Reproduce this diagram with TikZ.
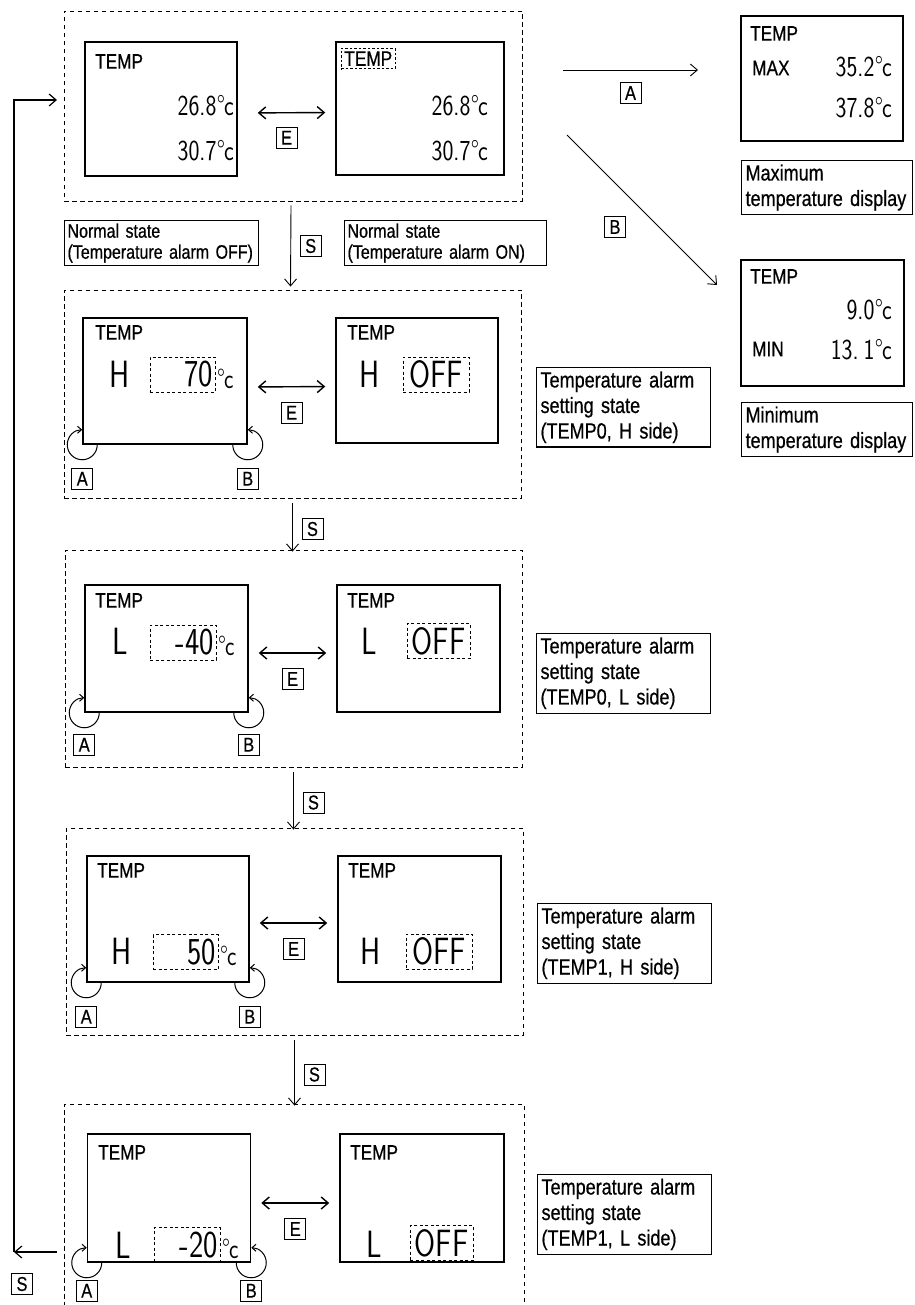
\documentclass[tikz,border=0pt]{standalone}
\usepackage{fontspec}
\setmainfont{Liberation Sans}[FakeStretch=0.82,FakeBold=0.6]
\newfontfamily\lcdfamily{lmsans17-regular.otf}[FakeStretch=0.8]
\usetikzlibrary{arrows.meta,positioning}
\newcommand\lcddeg{\kern0.5pt°\kern-1pt c}

\begin{document}
\begin{tikzpicture}[x=1pt,y=-1pt]
\tikzset{
  panel/.style={draw,line width=0.9pt,dash pattern=on 4.5pt off 3.5pt,inner sep=0pt},
  display/.style={draw,line width=1.5pt,inner sep=0pt},
  keybox/.style={draw,line width=0.9pt,inner sep=0pt,minimum size=21pt,font=\fontsize{20}{22}\selectfont},
  statebox/.style={draw,line width=1.1pt,inner sep=4pt,align=left,font=\fontsize{22}{25.5}\selectfont},
  normalbox/.style={draw,line width=1.1pt,inner sep=3pt,align=left,font=\fontsize{19.5}{21}\selectfont},
  tag/.style={inner sep=0pt,font=\fontsize{21}{22}\selectfont},
  digits/.style={inner sep=0pt,font=\lcdfamily\fontsize{29}{29}\selectfont},
  bigseg/.style={inner sep=0pt,font=\lcdfamily\fontsize{38}{38}\selectfont},
  degc/.style={inner sep=0pt,anchor=base west,font=\lcdfamily\fontsize{28}{28}\selectfont},
  valbox/.style={draw,line width=0.7pt,dash pattern=on 3pt off 2.5pt,inner sep=1pt,minimum height=35pt,font=\lcdfamily\fontsize{38}{38}\selectfont},
  flow/.style={-{Straight Barb[length=7pt,width=12pt]},line width=0.9pt},
  toggle/.style={{Straight Barb[length=7pt,width=12pt]}-{Straight Barb[length=7pt,width=12pt]},line width=1.4pt,shorten <=10pt,shorten >=10pt},
  spin/.style={-{Straight Barb[length=4pt,width=7pt]},line width=1pt}
}
\path[fill=white,use as bounding box] (0,0) rectangle (914,1305);

\node[panel,minimum width=458pt,minimum height=190pt] (p_1) at (293,106) {};
\node[panel,minimum width=457pt,minimum height=208pt] (p_2) at (292.5,394) {};
\node[panel,minimum width=457pt,minimum height=217pt] (p_3) at (293.5,658.5) {};
\node[panel,minimum width=457pt,minimum height=207pt] (p_4) at (294.5,931.5) {};
\node[panel,minimum width=460pt,minimum height=226pt] (p_5) at (294,1217) {};

\node[display,minimum width=152pt,minimum height=134pt] (d_1L) at (161,109) {};
\node[display,minimum width=168pt,minimum height=133pt] (d_1R) at (420,108.5) {};
\node[tag,anchor=north west] at (95,54) {TEMP};
\node[digits,anchor=east] at (234,106) {26.8\lcddeg};
\node[digits,anchor=east] at (234,151) {30.7\lcddeg};
\node[tag,anchor=north west,draw,dash pattern=on 2.5pt off 2pt,line width=0.7pt,inner sep=3pt] at (341,48) {TEMP};
\node[digits,anchor=east] at (488,106) {26.8\lcddeg};
\node[digits,anchor=east] at (488,151) {30.7\lcddeg};
\draw[toggle,shorten <=20pt] ([yshift=-4pt]d_1L.east) -- node[keybox,below=14pt] {E} ([yshift=-4pt]d_1R.west);

\node[normalbox,anchor=north west,text width=188pt,minimum height=44pt] (n_off) at (64,220) {Normal state\\(Temperature alarm OFF)};
\node[normalbox,anchor=north west,text width=196pt,minimum height=44pt] (n_on) at (344,220) {Normal state\\(Temperature alarm ON)};
\draw[flow] ([xshift=-2pt,yshift=-4pt]p_1.south) -- node[keybox,right=9pt] {S} ([xshift=-2pt,yshift=3pt]p_2.north);

\coordinate (a_0) at (563,70);
\coordinate (a_1) at (698,70);
\draw[flow] (a_0) -- node[keybox,below=12pt] {A} (a_1);
\coordinate (b_0) at (567,135);
\coordinate (b_1) at (717,285);
\draw[flow] (b_0) -- (b_1);
\node[keybox] (k_B) at (615,227) {B};

\node[display,minimum width=162pt,minimum height=125pt] (d_max) at (822,78.5) {};
\node[tag,anchor=north west] at (750,26) {TEMP};
\node[tag,anchor=west] at (752,68) {MAX};
\node[digits,anchor=east] at (892,67) {35.2\lcddeg};
\node[digits,anchor=east] at (892,108) {37.8\lcddeg};
\node[statebox,anchor=north west,text width=163pt,minimum height=52pt] (l_max) at (741,160) {Maximum\\temperature display};

\node[display,minimum width=163pt,minimum height=126pt] (d_min) at (822.5,323) {};
\node[tag,anchor=north west] at (750,269) {TEMP};
\node[digits,anchor=east] at (892,310) {9.0\lcddeg};
\node[tag,anchor=west] at (752,349) {MIN};
\node[digits,anchor=east] at (892,350) {13.\,1\lcddeg};
\node[statebox,anchor=north west,text width=163pt,minimum height=52pt] (l_min) at (741,402) {Minimum\\temperature display};

\node[display,minimum width=164pt,minimum height=126pt] (d_2L) at (165,381) {};
\node[display,minimum width=162pt,minimum height=125pt] (d_2R) at (417,380.5) {};
\node[tag,anchor=north west] at (95,325) {TEMP};
\node[tag,anchor=north west] at (347,325) {TEMP};
\node[bigseg] at (120,374) {H};
\node[valbox,minimum width=65pt,text width=61pt,align=right] (v_2L) at (182.5,374.5) {70};
\node[degc] at (217,388) {°\kern-1pt c};
\node[bigseg] at (370,374) {H};
\node[valbox,minimum width=66pt,text width=62pt,align=center] (v_2R) at (436,374.5) {OFF};
\draw[toggle] ([yshift=-6pt]d_2L.east) -- node[keybox,below=15pt] {E} ([yshift=-6pt]d_2R.west);
\draw[spin] ([xshift=15pt]d_2L.south west) arc[start angle=0,end angle=-270,radius=15pt];
\draw[spin] ([xshift=-15pt]d_2L.south east) arc[start angle=180,end angle=450,radius=15pt];
\node[keybox,below=23pt of d_2L.south west] {A};
\node[keybox,below=23pt of d_2L.south east] {B};
\node[statebox,anchor=north west,text width=166pt,minimum height=77pt] (l_2) at (536,367) {Temperature alarm\\setting state\\(TEMP0, H side)};
\draw[flow,shorten >=3pt] ([yshift=-5pt]p_2.south) -- node[keybox,right=9pt] {S} ([yshift=-5pt]p_2.south |- p_3.north);

\node[display,minimum width=163pt,minimum height=127pt] (d_3L) at (166.5,648.5) {};
\node[display,minimum width=163pt,minimum height=127pt] (d_3R) at (418.5,648.5) {};
\node[tag,anchor=north west] at (95,593) {TEMP};
\node[tag,anchor=north west] at (347,593) {TEMP};
\node[bigseg] at (120,641.5) {L};
\node[valbox,minimum width=66pt,text width=62pt,align=right] (v_3L) at (183,642.5) {-40};
\node[degc] at (218,655) {°\kern-1pt c};
\node[bigseg] at (369.5,641.5) {L};
\node[valbox,minimum width=63pt,text width=59pt,align=center] (v_3R) at (438.5,641) {OFF};
\draw[toggle] ([yshift=-4.5pt]d_3L.east) -- node[keybox,below=15pt] {E} ([yshift=-4.5pt]d_3R.west);
\draw[spin] ([xshift=15pt]d_3L.south west) arc[start angle=0,end angle=-270,radius=15pt];
\draw[spin] ([xshift=-15pt]d_3L.south east) arc[start angle=180,end angle=450,radius=15pt];
\node[keybox,below=21pt of d_3L.south west] {A};
\node[keybox,below=21pt of d_3L.south east] {B};
\node[statebox,anchor=north west,text width=166pt,minimum height=77pt] (l_3) at (536,633) {Temperature alarm\\setting state\\(TEMP0, L side)};
\draw[flow,shorten >=3pt] ([yshift=-5pt]p_3.south) -- node[keybox,right=9pt] {S} ([yshift=-5pt]p_3.south |- p_4.north);

\node[display,minimum width=162pt,minimum height=126pt] (d_4L) at (168,919) {};
\node[display,minimum width=163pt,minimum height=126pt] (d_4R) at (419.5,919) {};
\node[tag,anchor=north west] at (97,863) {TEMP};
\node[tag,anchor=north west] at (348,863) {TEMP};
\node[bigseg] at (121.5,951.5) {H};
\node[valbox,minimum width=65pt,text width=61pt,align=right] (v_4L) at (185.5,952) {50};
\node[degc] at (220,965) {°\kern-1pt c};
\node[bigseg] at (370.5,951.5) {H};
\node[valbox,minimum width=66pt,text width=62pt,align=center] (v_4R) at (439,951.5) {OFF};
\draw[toggle] ([yshift=-4pt]d_4L.east) -- node[keybox,below=15pt] {E} ([yshift=-4pt]d_4R.west);
\draw[spin] ([xshift=15pt]d_4L.south west) arc[start angle=0,end angle=-270,radius=15pt];
\draw[spin] ([xshift=-15pt]d_4L.south east) arc[start angle=180,end angle=450,radius=15pt];
\node[keybox,below=23pt of d_4L.south west] {A};
\node[keybox,below=23pt of d_4L.south east] {B};
\node[statebox,anchor=north west,text width=166pt,minimum height=77pt] (l_4) at (537,903) {Temperature alarm\\setting state\\(TEMP1, H side)};
\draw[flow,shorten >=3pt] ([yshift=-5pt]p_4.south) -- node[keybox,right=9pt] {S} ([yshift=-5pt]p_4.south |- p_5.north);

\node[display,minimum width=163pt,minimum height=128pt] (d_5L) at (169,1198) {};
\node[display,minimum width=164pt,minimum height=128pt] (d_5R) at (422,1198) {};
\node[tag,anchor=north west] at (98,1145) {TEMP};
\node[tag,anchor=north west] at (350,1145) {TEMP};
\node[bigseg] at (123,1245) {L};
\node[valbox,minimum width=66pt,text width=62pt,align=right] (v_5L) at (187,1245) {-20};
\node[degc] at (222,1258) {°\kern-1pt c};
\node[bigseg] at (374,1244) {L};
\node[valbox,minimum width=63pt,text width=59pt,align=center] (v_5R) at (441.5,1243) {OFF};
\draw[toggle] ([yshift=-5pt]d_5L.east) -- node[keybox,below=15pt] {E} ([yshift=-5pt]d_5R.west);
\draw[spin] ([xshift=15pt]d_5L.south west) arc[start angle=0,end angle=-270,radius=15pt];
\draw[spin] ([xshift=-15pt]d_5L.south east) arc[start angle=180,end angle=450,radius=15pt];
\node[keybox,below=17pt of d_5L.south west] {A};
\node[keybox,below=17pt of d_5L.south east] {B};
\node[statebox,anchor=north west,text width=166pt,minimum height=77pt] (l_5) at (537,1174) {Temperature alarm\\setting state\\(TEMP1, L side)};

\coordinate (ret_a) at (57,1252);
\coordinate (ret_b) at (14,1252);
\coordinate (ret_c) at (14,100);
\coordinate (ret_d) at (57,100);
\draw[flow,line width=1.2pt] (ret_a) -- (ret_b);
\draw[flow,line width=1.2pt] (ret_b) -- (ret_c) -- (ret_d);
\node[keybox] (k_ret) at (22,1284) {S};
\end{tikzpicture}
\end{document}
